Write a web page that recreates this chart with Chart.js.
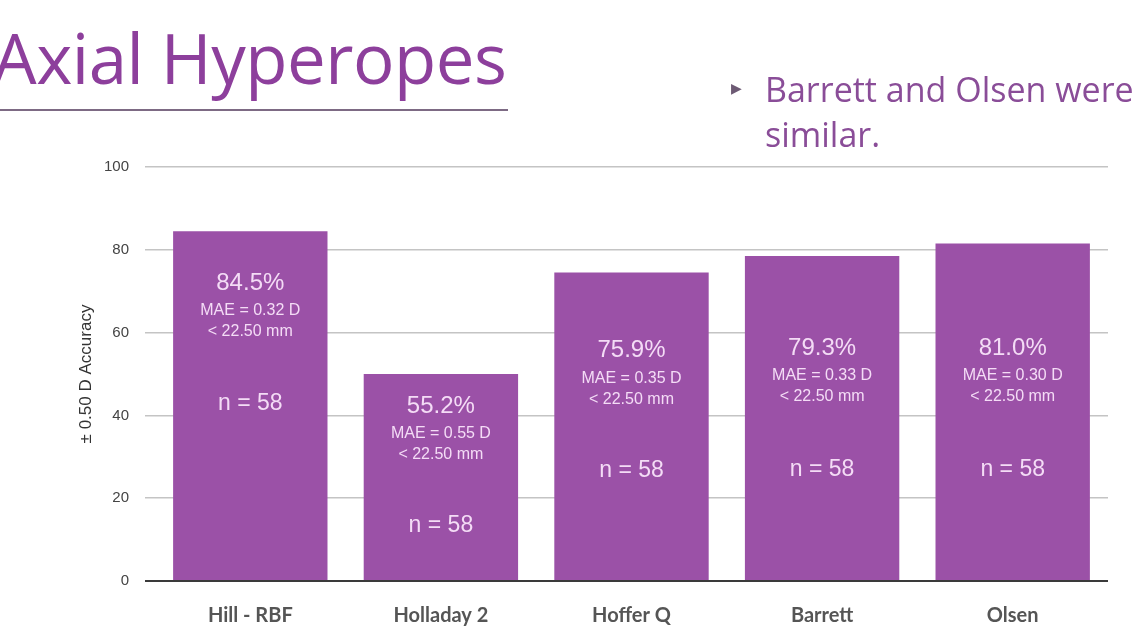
<!DOCTYPE html>
<html>
<head>
<meta charset="utf-8">
<script src="https://cdn.jsdelivr.net/npm/chart.js@4.4.0/dist/chart.umd.min.js"></script>
<style>
  html, body { margin: 0; padding: 0; background: #fff; overflow: hidden; }
  #wrap { position: relative; width: 1138px; height: 640px; }
  #chart { position: absolute; left: 0; top: 0; }
  .title { position: absolute; left: -7px; top: 10px; font-family: "Open Sans", sans-serif; font-size: 69px; color: #8d3f9c; white-space: nowrap; letter-spacing: -0.5px; }
  .rule { position: absolute; left: 0; top: 109px; width: 508px; height: 2px; background: #7d6a84; }
  .bullet { position: absolute; left: 765px; top: 67px; font-family: "Open Sans", sans-serif; font-size: 34px; line-height: 45px; color: #8a4d98; white-space: nowrap; }
  .arrow { position: absolute; left: 731px; top: 80px; font-size: 14px; color: #6d5a74; }
</style>
</head>
<body>
<div id="wrap">
  <canvas id="chart" width="1138" height="640"></canvas>
  <div class="title">Axial Hyperopes</div>
  <div class="rule"></div>
  <div class="arrow">&#9654;</div>
  <div class="bullet">Barrett and Olsen were<br>similar.</div>
</div>
<script>
// Dados do gráfico
const formulas = ['Hill - RBF', 'Holladay 2', 'Hoffer Q', 'Barrett', 'Olsen'];
const accuracy = [84.5, 50, 74.5, 78.5, 81.5];
const pctLabels = ['84.5%', '55.2%', '75.9%', '79.3%', '81.0%'];
const maeLabels = ['MAE = 0.32 D', 'MAE = 0.55 D', 'MAE = 0.35 D', 'MAE = 0.33 D', 'MAE = 0.30 D'];
const rangeLabels = ['< 22.50 mm', '< 22.50 mm', '< 22.50 mm', '< 22.50 mm', '< 22.50 mm'];
const nLabels = ['n = 58', 'n = 58', 'n = 58', 'n = 58', 'n = 58'];
const yTicks = [0, 20, 40, 60, 80, 100];

// onde ficam os textos dentro das barras (em unidades do eixo)
const pctAnchor = [72, 42.3, 55.6, 56.3, 56.3];
const nAnchor = [42.8, 13.3, 26.6, 27, 27];

const txtColor = '#f4dcf6';

// escreve os rótulos dentro das barras
const barText = {
  id: 'barText',
  afterDatasetsDraw(chart) {
    const ctx = chart.ctx;
    const y = chart.scales.y;
    const bars = chart.getDatasetMeta(0).data;
    ctx.save();
    ctx.fillStyle = txtColor;
    ctx.textAlign = 'center';
    ctx.textBaseline = 'middle';
    bars.forEach((bar, i) => {
      const py = y.getPixelForValue(pctAnchor[i]);
      ctx.font = '24px "Liberation Sans", Arial, sans-serif';
      ctx.fillText(pctLabels[i], bar.x, py);
      ctx.font = '16px "Liberation Sans", Arial, sans-serif';
      ctx.fillText(maeLabels[i], bar.x, py + 28);
      ctx.fillText(rangeLabels[i], bar.x, py + 49);
      ctx.font = '23px "Liberation Sans", Arial, sans-serif';
      ctx.fillText(nLabels[i], bar.x, y.getPixelForValue(nAnchor[i]));
    });
    ctx.restore();
  }
};

new Chart(document.getElementById('chart').getContext('2d'), {
  type: 'bar',
  data: {
    labels: formulas,
    datasets: [{
      data: accuracy,
      backgroundColor: '#9b51a7',
      borderWidth: 0,
      barPercentage: 0.81,
      categoryPercentage: 1.0
    }]
  },
  options: {
    responsive: false,
    animation: false,
    layout: { padding: { top: 167, left: 72, right: 30, bottom: 0 } },
    plugins: { legend: { display: false }, tooltip: { enabled: false } },
    scales: {
      x: {
        grid: { display: false },
        border: { display: false },
        ticks: {
          color: '#555',
          padding: 15,
          font: { family: 'Lato, "Open Sans", sans-serif', size: 20, weight: 'bold' }
        },
        afterFit: s => { s.height = 59; }
      },
      y: {
        min: 0,
        max: 100,
        afterBuildTicks: s => { s.ticks = yTicks.map(v => ({ value: v })); },
        afterFit: s => { s.width = 83; },
        border: { display: false },
        grid: {
          tickLength: 10,
          lineWidth: ctx => ctx.tick && ctx.tick.value === 0 ? 2 : 1.5,
          color: ctx => ctx.tick && ctx.tick.value === 0 ? '#3a3a3a' : '#c4c4c4'
        },
        ticks: {
          color: '#444',
          padding: 16,
          font: { family: '"Liberation Sans", Arial, sans-serif', size: 15 }
        },
        title: {
          display: true,
          text: '± 0.50 D Accuracy',
          color: '#333',
          padding: 4,
          font: { family: '"Liberation Sans", Arial, sans-serif', size: 17 }
        }
      }
    }
  },
  plugins: [barText]
});
</script>
</body>
</html>
